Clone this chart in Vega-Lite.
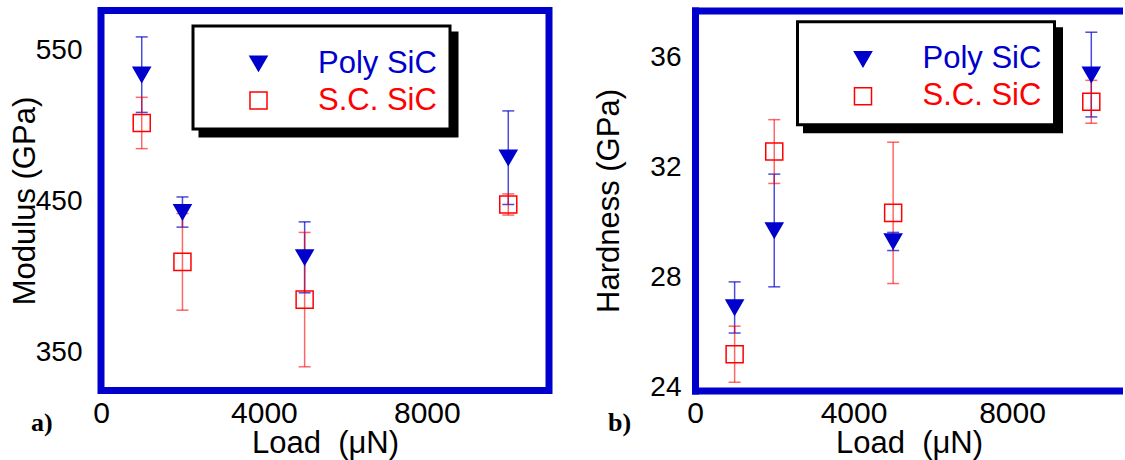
{
  "$schema": "https://vega.github.io/schema/vega-lite/v6.json",
  "padding": {"left": 5, "top": 6.5, "right": 0, "bottom": 0},
  "spacing": 40,
  "background": "white",
  "resolve": {
    "scale": {"color": "independent", "shape": "independent", "fill": "independent", "stroke": "independent"},
    "legend": {"color": "independent", "shape": "independent", "fill": "independent", "stroke": "independent"}
  },
  "datasets": {
    "mod": [
      {"load": 1000, "series": "S.C. SiC", "value": 502, "err": 17},
      {"load": 2000, "series": "S.C. SiC", "value": 410, "err": 32},
      {"load": 5000, "series": "S.C. SiC", "value": 385, "err": 44.5},
      {"load": 10000, "series": "S.C. SiC", "value": 448, "err": 7},
      {"load": 1000, "series": "Poly SiC", "value": 534, "err": 25},
      {"load": 2000, "series": "Poly SiC", "value": 443, "err": 10},
      {"load": 5000, "series": "Poly SiC", "value": 413, "err": 23.5},
      {"load": 10000, "series": "Poly SiC", "value": 479, "err": 31}
    ],
    "hard": [
      {"load": 1000, "series": "S.C. SiC", "value": 25.2, "err": 1.02},
      {"load": 2000, "series": "S.C. SiC", "value": 32.57, "err": 1.16},
      {"load": 5000, "series": "S.C. SiC", "value": 30.34, "err": 2.57},
      {"load": 10000, "series": "S.C. SiC", "value": 34.38, "err": 0.78},
      {"load": 1000, "series": "Poly SiC", "value": 26.9, "err": 0.93},
      {"load": 2000, "series": "Poly SiC", "value": 29.7, "err": 2.05},
      {"load": 5000, "series": "Poly SiC", "value": 29.3, "err": 0.33},
      {"load": 10000, "series": "Poly SiC", "value": 35.37, "err": 1.54}
    ]
  },
  "hconcat": [
    {
      "width": 448,
      "height": 380,
      "data": {"name": "mod"},
      "title": {"text": "a)", "orient": "bottom", "anchor": "start", "frame": "group", "font": "Liberation Serif", "fontWeight": "bold", "fontSize": 26, "color": "black", "dx": -70, "dy": -28, "offset": 0, "baseline": "alphabetic"},
      "layer": [
        {
          "mark": {"type": "point", "opacity": 0},
          "encoding": {
            "x": {"field": "load", "type": "quantitative", "scale": {"domain": [0, 11000], "nice": false, "zero": false},
              "axis": {"values": [0, 4000, 8000], "format": "d", "title": "Load\u00a0 (μN)", "labelFontSize": 30, "labelPadding": 8, "titleFontSize": 31, "titlePadding": 0, "labelFlush": false, "labelOverlap": false}},
            "y": {"field": "value", "type": "quantitative", "scale": {"domain": [324.8, 576.5], "nice": false, "zero": false},
              "axis": {"values": [350, 450, 550], "format": "d", "title": "Modulus (GPa)", "labelFontSize": 28, "labelPadding": 19, "titleFontSize": 31, "titlePadding": -6, "labelFlush": false, "labelOverlap": false}},
            "color": {"field": "series", "type": "nominal", "scale": {"range": ["black", "black"]},
              "legend": {"orient": "none", "legendX": 99, "legendY": 22.5, "title": " ", "titleFontSize": 1, "titlePadding": 8, "fillColor": "black", "strokeColor": "black", "padding": 13, "columnPadding": 0, "symbolOffset": 37, "labelOffset": 44, "rowPadding": 5, "symbolSize": 290, "symbolOpacity": 0, "labelFont": "Liberation Sans", "labelFontSize": 31, "labelColor": "black", "labelOpacity": 0, "labelLimit": 400}}
          }
        },
        {
          "transform": [{"filter": "datum.series === 'Poly SiC'"}],
          "mark": {"type": "errorbar", "color": "#0000cc", "opacity": 0.7, "thickness": 1.5, "ticks": {"size": 12, "thickness": 1.5}},
          "encoding": {
            "x": {"field": "load", "type": "quantitative", "scale": {"domain": [0, 11000], "nice": false, "zero": false},
              "axis": {"values": [0, 4000, 8000], "format": "d", "title": "Load\u00a0 (μN)", "labelFontSize": 30, "labelPadding": 8, "titleFontSize": 31, "titlePadding": 0, "labelFlush": false, "labelOverlap": false}},
            "y": {"field": "value", "type": "quantitative", "scale": {"domain": [324.8, 576.5], "nice": false, "zero": false},
              "axis": {"values": [350, 450, 550], "format": "d", "title": "Modulus (GPa)", "labelFontSize": 28, "labelPadding": 19, "titleFontSize": 31, "titlePadding": -6, "labelFlush": false, "labelOverlap": false}},
            "yError": {"field": "err"}
          }
        },
        {
          "transform": [{"filter": "datum.series === 'S.C. SiC'"}],
          "mark": {"type": "errorbar", "color": "#ff0000", "opacity": 0.6, "thickness": 1.5, "ticks": {"size": 12, "thickness": 1.5}},
          "encoding": {
            "x": {"field": "load", "type": "quantitative", "scale": {"domain": [0, 11000], "nice": false, "zero": false},
              "axis": {"values": [0, 4000, 8000], "format": "d", "title": "Load\u00a0 (μN)", "labelFontSize": 30, "labelPadding": 8, "titleFontSize": 31, "titlePadding": 0, "labelFlush": false, "labelOverlap": false}},
            "y": {"field": "value", "type": "quantitative", "scale": {"domain": [324.8, 576.5], "nice": false, "zero": false},
              "axis": {"values": [350, 450, 550], "format": "d", "title": "Modulus (GPa)", "labelFontSize": 28, "labelPadding": 19, "titleFontSize": 31, "titlePadding": -6, "labelFlush": false, "labelOverlap": false}},
            "yError": {"field": "err"}
          }
        },
        {
          "mark": {"type": "point", "filled": true, "size": 290, "strokeWidth": 1.5, "opacity": 1},
          "encoding": {
            "x": {"field": "load", "type": "quantitative", "scale": {"domain": [0, 11000], "nice": false, "zero": false},
              "axis": {"values": [0, 4000, 8000], "format": "d", "title": "Load\u00a0 (μN)", "labelFontSize": 30, "labelPadding": 8, "titleFontSize": 31, "titlePadding": 0, "labelFlush": false, "labelOverlap": false}},
            "y": {"field": "value", "type": "quantitative", "scale": {"domain": [324.8, 576.5], "nice": false, "zero": false},
              "axis": {"values": [350, 450, 550], "format": "d", "title": "Modulus (GPa)", "labelFontSize": 28, "labelPadding": 19, "titleFontSize": 31, "titlePadding": -6, "labelFlush": false, "labelOverlap": false}},
            "shape": {"field": "series", "type": "nominal", "scale": {"domain": ["Poly SiC", "S.C. SiC"], "range": ["triangle-down", "square"]},
              "legend": {"orient": "none", "legendX": 92, "legendY": 15.5, "title": " ", "titleFontSize": 1, "titlePadding": 8, "fillColor": "white", "strokeColor": "black", "padding": 13, "columnPadding": 0, "symbolOffset": 37, "labelOffset": 44, "rowPadding": 5, "symbolSize": 290, "symbolStrokeWidth": 1.5, "labelFont": "Liberation Sans", "labelFontSize": 31, "labelLimit": 400,
                "labelColor": {"expr": "datum.label === 'Poly SiC' ? '#0000cc' : '#ff0000'"}}},
            "fill": {"field": "series", "type": "nominal", "scale": {"domain": ["Poly SiC", "S.C. SiC"], "range": ["#0000cc", "transparent"]},
              "legend": {"orient": "none", "legendX": 92, "legendY": 15.5, "title": " ", "titleFontSize": 1, "titlePadding": 8, "fillColor": "white", "strokeColor": "black", "padding": 13, "columnPadding": 0, "symbolOffset": 37, "labelOffset": 44, "rowPadding": 5, "symbolSize": 290, "symbolStrokeWidth": 1.5, "labelFont": "Liberation Sans", "labelFontSize": 31, "labelLimit": 400,
                "labelColor": {"expr": "datum.label === 'Poly SiC' ? '#0000cc' : '#ff0000'"}}},
            "stroke": {"field": "series", "type": "nominal", "scale": {"domain": ["Poly SiC", "S.C. SiC"], "range": ["#0000cc", "#ff0000"]},
              "legend": {"orient": "none", "legendX": 92, "legendY": 15.5, "title": " ", "titleFontSize": 1, "titlePadding": 8, "fillColor": "white", "strokeColor": "black", "padding": 13, "columnPadding": 0, "symbolOffset": 37, "labelOffset": 44, "rowPadding": 5, "symbolSize": 290, "symbolStrokeWidth": 1.5, "labelFont": "Liberation Sans", "labelFontSize": 31, "labelLimit": 400,
                "labelColor": {"expr": "datum.label === 'Poly SiC' ? '#0000cc' : '#ff0000'"}}}
          }
        }
      ]
    },
    {
      "width": 428,
      "height": 380,
      "data": {"name": "hard"},
      "view": {"stroke": null},
      "title": {"text": "b)", "orient": "bottom", "anchor": "start", "frame": "group", "font": "Liberation Serif", "fontWeight": "bold", "fontSize": 26, "color": "black", "dx": -87, "dy": -28, "offset": 0, "baseline": "alphabetic"},
      "resolve": {"axis": {"x": "independent"}},
      "layer": [
        {
          "mark": {"type": "point", "opacity": 0},
          "encoding": {
            "x": {"field": "load", "type": "quantitative", "scale": {"domain": [0, 10800], "nice": false, "zero": false},
              "axis": {"orient": "top", "labels": false, "ticks": false, "title": null, "domain": true, "domainColor": "#0000cc", "domainWidth": 7, "domainCap": "square"}},
            "y": {"field": "value", "type": "quantitative", "scale": {"domain": [23.88, 37.7], "nice": false, "zero": false},
              "axis": {"values": [24, 28, 32, 36], "format": "d", "title": "Hardness (GPa)", "labelFontSize": 28, "labelPadding": 14, "titleFontSize": 31, "titlePadding": 24, "labelFlush": false, "labelOverlap": false, "domain": true, "domainColor": "#0000cc", "domainWidth": 7, "domainCap": "square"}},
            "color": {"field": "series", "type": "nominal", "scale": {"range": ["black", "black"]},
              "legend": {"orient": "none", "legendX": 109.5, "legendY": 18.2, "title": " ", "titleFontSize": 1, "titlePadding": 8, "fillColor": "black", "strokeColor": "black", "padding": 13, "columnPadding": 0, "symbolOffset": 37, "labelOffset": 44, "rowPadding": 5, "symbolSize": 290, "symbolOpacity": 0, "labelFont": "Liberation Sans", "labelFontSize": 31, "labelColor": "black", "labelOpacity": 0, "labelLimit": 400}}
          }
        },
        {
          "transform": [{"filter": "datum.series === 'Poly SiC'"}],
          "mark": {"type": "errorbar", "color": "#0000cc", "opacity": 0.7, "thickness": 1.5, "ticks": {"size": 12, "thickness": 1.5}},
          "encoding": {
            "x": {"field": "load", "type": "quantitative", "scale": {"domain": [0, 10800], "nice": false, "zero": false}, "axis": null},
            "y": {"field": "value", "type": "quantitative", "scale": {"domain": [23.88, 37.7], "nice": false, "zero": false},
              "axis": {"values": [24, 28, 32, 36], "format": "d", "title": "Hardness (GPa)", "labelFontSize": 28, "labelPadding": 14, "titleFontSize": 31, "titlePadding": 24, "labelFlush": false, "labelOverlap": false, "domain": true, "domainColor": "#0000cc", "domainWidth": 7, "domainCap": "square"}},
            "yError": {"field": "err"}
          }
        },
        {
          "transform": [{"filter": "datum.series === 'S.C. SiC'"}],
          "mark": {"type": "errorbar", "color": "#ff0000", "opacity": 0.6, "thickness": 1.5, "ticks": {"size": 12, "thickness": 1.5}},
          "encoding": {
            "x": {"field": "load", "type": "quantitative", "scale": {"domain": [0, 10800], "nice": false, "zero": false}, "axis": null},
            "y": {"field": "value", "type": "quantitative", "scale": {"domain": [23.88, 37.7], "nice": false, "zero": false},
              "axis": {"values": [24, 28, 32, 36], "format": "d", "title": "Hardness (GPa)", "labelFontSize": 28, "labelPadding": 14, "titleFontSize": 31, "titlePadding": 24, "labelFlush": false, "labelOverlap": false, "domain": true, "domainColor": "#0000cc", "domainWidth": 7, "domainCap": "square"}},
            "yError": {"field": "err"}
          }
        },
        {
          "mark": {"type": "point", "filled": true, "size": 290, "strokeWidth": 1.5, "opacity": 1},
          "encoding": {
            "x": {"field": "load", "type": "quantitative", "scale": {"domain": [0, 10800], "nice": false, "zero": false},
              "axis": {"orient": "bottom", "values": [0, 4000, 8000], "format": "d", "title": "Load\u00a0 (μN)", "labelFontSize": 30, "labelPadding": 8, "titleFontSize": 31, "titlePadding": 0, "labelFlush": false, "labelOverlap": false, "domain": true, "domainColor": "#0000cc", "domainWidth": 7, "domainCap": "square"}},
            "y": {"field": "value", "type": "quantitative", "scale": {"domain": [23.88, 37.7], "nice": false, "zero": false},
              "axis": {"values": [24, 28, 32, 36], "format": "d", "title": "Hardness (GPa)", "labelFontSize": 28, "labelPadding": 14, "titleFontSize": 31, "titlePadding": 24, "labelFlush": false, "labelOverlap": false, "domain": true, "domainColor": "#0000cc", "domainWidth": 7, "domainCap": "square"}},
            "shape": {"field": "series", "type": "nominal", "scale": {"domain": ["Poly SiC", "S.C. SiC"], "range": ["triangle-down", "square"]},
              "legend": {"orient": "none", "legendX": 102.5, "legendY": 11.2, "title": " ", "titleFontSize": 1, "titlePadding": 8, "fillColor": "white", "strokeColor": "black", "padding": 13, "columnPadding": 0, "symbolOffset": 37, "labelOffset": 44, "rowPadding": 5, "symbolSize": 290, "symbolStrokeWidth": 1.5, "labelFont": "Liberation Sans", "labelFontSize": 31, "labelLimit": 400,
                "labelColor": {"expr": "datum.label === 'Poly SiC' ? '#0000cc' : '#ff0000'"}}},
            "fill": {"field": "series", "type": "nominal", "scale": {"domain": ["Poly SiC", "S.C. SiC"], "range": ["#0000cc", "transparent"]},
              "legend": {"orient": "none", "legendX": 102.5, "legendY": 11.2, "title": " ", "titleFontSize": 1, "titlePadding": 8, "fillColor": "white", "strokeColor": "black", "padding": 13, "columnPadding": 0, "symbolOffset": 37, "labelOffset": 44, "rowPadding": 5, "symbolSize": 290, "symbolStrokeWidth": 1.5, "labelFont": "Liberation Sans", "labelFontSize": 31, "labelLimit": 400,
                "labelColor": {"expr": "datum.label === 'Poly SiC' ? '#0000cc' : '#ff0000'"}}},
            "stroke": {"field": "series", "type": "nominal", "scale": {"domain": ["Poly SiC", "S.C. SiC"], "range": ["#0000cc", "#ff0000"]},
              "legend": {"orient": "none", "legendX": 102.5, "legendY": 11.2, "title": " ", "titleFontSize": 1, "titlePadding": 8, "fillColor": "white", "strokeColor": "black", "padding": 13, "columnPadding": 0, "symbolOffset": 37, "labelOffset": 44, "rowPadding": 5, "symbolSize": 290, "symbolStrokeWidth": 1.5, "labelFont": "Liberation Sans", "labelFontSize": 31, "labelLimit": 400,
                "labelColor": {"expr": "datum.label === 'Poly SiC' ? '#0000cc' : '#ff0000'"}}}
          }
        }
      ]
    }
  ],
  "config": {
    "font": "Liberation Sans",
    "view": {"stroke": "#0000cc", "strokeWidth": 7},
    "axis": {"grid": false, "ticks": false, "domain": false, "labelFont": "Liberation Sans", "titleFont": "Liberation Sans", "labelColor": "black", "titleColor": "black", "titleFontWeight": "normal"},
    "legend": {"labelFont": "Liberation Sans", "strokeWidth": 3}
  }
}
